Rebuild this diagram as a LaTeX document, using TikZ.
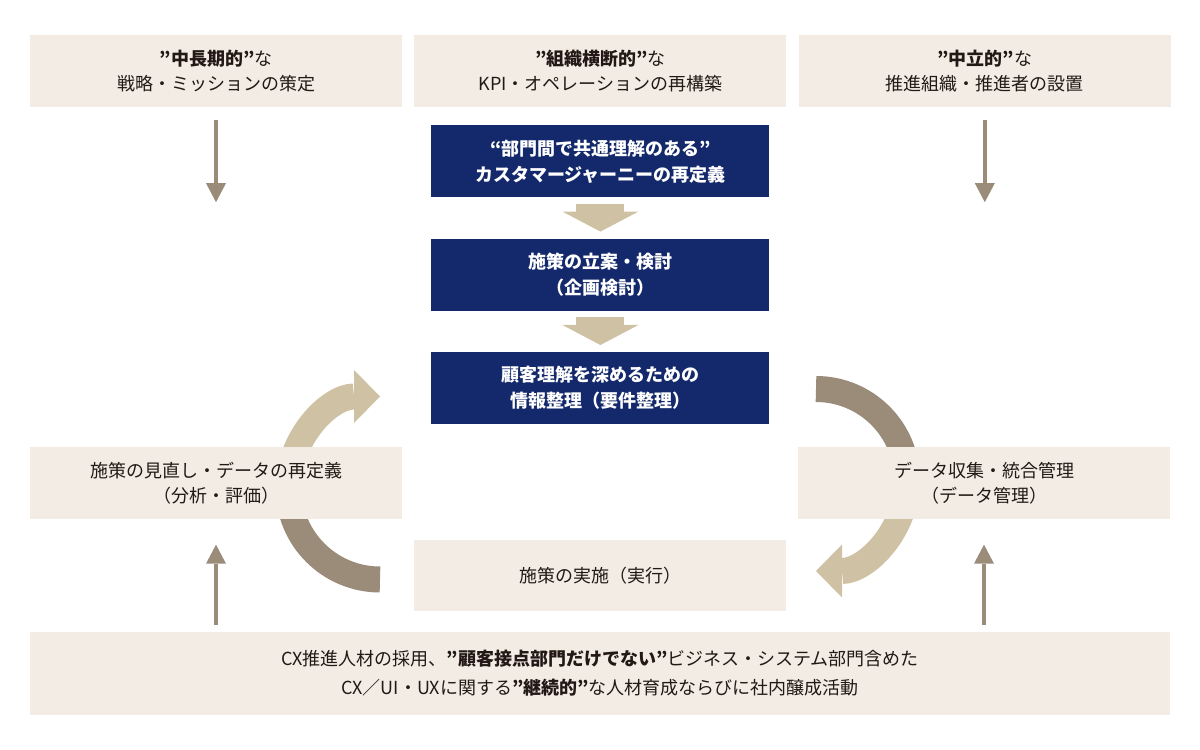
\documentclass[tikz,border=0pt]{standalone}
\usepackage{fontspec}
\setmainfont{Noto Sans CJK JP}
\usepackage{xcolor}
\usepackage{tikz}
\usetikzlibrary{positioning}
\usetikzlibrary{arrows.meta}
\usetikzlibrary{backgrounds}
\definecolor{boxbeige}{HTML}{F2ECE4}
\definecolor{deepnavy}{HTML}{14296B}
\definecolor{arrowbrown}{HTML}{9B8B79}
\definecolor{chevtan}{HTML}{CFC1A4}
\definecolor{inktext}{HTML}{231815}
\tikzstyle{thinarrow}= [line width=4pt, arrowbrown, -{Triangle[length=19pt,width=20pt,line width=0pt]}]
\tikzstyle{chevron}= [line width=48pt, chevtan, -{Triangle[length=20pt,width=76pt,line width=0pt]}]
\tikzstyle{darkband}= [line width=26pt, arrowbrown]
\tikzstyle{lightband}= [line width=26pt, chevtan, -{Triangle[length=26pt,width=53pt,line width=0pt]}]

\begin{document}
\begin{tikzpicture}[
		x=1pt,y=1pt,
		node distance=12pt,
		font=\fontsize{18}{25}\selectfont,
    panel/.style={
    fill=boxbeige,text=inktext,minimum width=372pt,minimum height=72pt,inner sep=0pt,align=center,
    },
    stepbox/.style={
    fill=deepnavy,text=white,minimum width=338pt,minimum height=72pt,inner sep=0pt,align=center,
    font=\fontsize{18}{26}\selectfont\bfseries,
    }
	]
  \useasboundingbox (0,0) rectangle (1200,750);

  \node[panel] (strategy) at (216,679) {\textbf{”中長期的”}な\\戦略・ミッションの策定};
  \node[panel,right=12pt of strategy] (kpi) {\textbf{”組織横断的”}な\\KPI・オペレーションの再構築};
  \node[panel,right=12pt of kpi] (promoter) {\textbf{”中立的”}な\\推進組織・推進者の設置};

  \node[stepbox,below=18pt of kpi] (journey) {“部門間で共通理解のある”\\カスタマージャーニーの再定義};
  \node[stepbox,below=41pt of journey] (plan) {施策の立案・検討\\（企画検討）};
  \node[stepbox,below=41pt of plan] (insight) {顧客理解を深めるための\\情報整理（要件整理）};

  \node[panel] (review) at (216,266.5) {施策の見直し・データの再定義\\（分析・評価）};
  \node[panel] (datamgmt) at (984,266.5) {データ収集・統合管理\\（データ管理）};
  \node[panel,minimum height=71pt] (execute) at (600,174.5) {施策の実施（実行）};
  \node[panel,minimum width=1140pt,minimum height=83pt,font=\fontsize{18}{29}\selectfont] (talent) at (600,76.5)
    {CX推進人材の採用、\textbf{”顧客接点部門だけでない”}ビジネス・システム部門含めた\\CX／UI・UXに関する\textbf{”継続的”}な人材育成ならびに社内醸成活動};

  \coordinate (strategyend) at ([yshift=-95pt]strategy.south);
  \coordinate (promoterend) at ([yshift=-95pt]promoter.south);
  \draw[thinarrow,shorten <=13pt] (strategy) -- (strategyend);
  \draw[thinarrow,shorten <=13pt] (promoter) -- (promoterend);
  \draw[thinarrow,shorten <=7pt,shorten >=25pt] (talent.north -| review.south) -- (review.south);
  \draw[thinarrow,shorten <=7pt,shorten >=25pt] (talent.north -| datamgmt.south) -- (datamgmt.south);

  \draw[chevron,shorten <=6pt,shorten >=7pt] (journey) -- (plan);
  \draw[chevron,shorten <=6pt,shorten >=7pt] (plan) -- (insight);

  \coordinate (lefthub) at (380,262);
  \coordinate (righthub) at (816,270);
  \begin{scope}[on background layer]
    \draw[lightband] (lefthub) ++(180:91.5) arc[start angle=180,end angle=90,radius=91.5];
    \draw[darkband] (lefthub) ++(180:91.5) arc[start angle=180,end angle=270,radius=91.5];
    \draw[darkband] (righthub) ++(90:91) arc[start angle=90,end angle=0,radius=91];
    \draw[lightband] (righthub) ++(0:91) arc[start angle=0,end angle=-90,radius=91];
  \end{scope}
\end{tikzpicture}
\end{document}
